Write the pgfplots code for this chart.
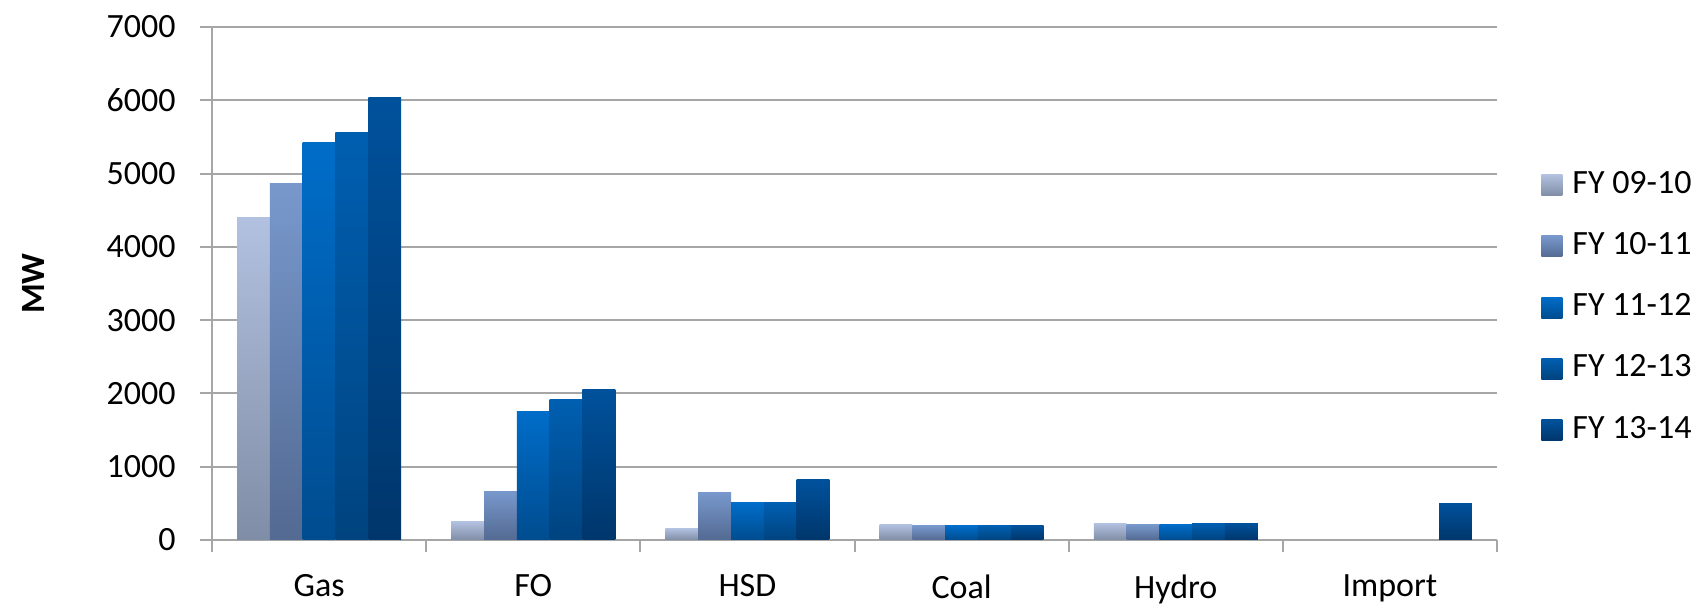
\documentclass[border=0pt]{standalone}
\usepackage{fontspec}
\setmainfont{Carlito}
\usepackage{pgfplots}
\pgfplotsset{compat=1.18}

\definecolor{gridgray}{HTML}{A6A6A6}
\definecolor{aTop}{HTML}{B2C1E0}\definecolor{aBot}{HTML}{808DA6}
\definecolor{bTop}{HTML}{7898CC}\definecolor{bBot}{HTML}{536A92}
\definecolor{cTop}{HTML}{006DC9}\definecolor{cBot}{HTML}{004C8F}
\definecolor{dTop}{HTML}{005FB1}\definecolor{dBot}{HTML}{00437F}
\definecolor{eTop}{HTML}{00519C}\definecolor{eBot}{HTML}{00366B}

% one style per fiscal year; every bar is its own plot so that each
% bar carries its own top-to-bottom gradient
\pgfplotsset{
  fya/.style={draw=none, top color=aTop, bottom color=aBot, bar shift=-32.8pt},
  fyb/.style={draw=none, top color=bTop, bottom color=bBot, bar shift=-16.4pt},
  fyc/.style={draw=none, top color=cTop, bottom color=cBot, bar shift=0pt},
  fyd/.style={draw=none, top color=dTop, bottom color=dBot, bar shift=16.4pt},
  fye/.style={draw=none, top color=eTop, bottom color=eBot, bar shift=32.8pt},
}
\newcommand{\legfont}{\fontsize{17}{20}\selectfont}

\begin{document}
\begin{tikzpicture}
\useasboundingbox (0,0) rectangle (852.5pt,302pt);
\begin{axis}[
  at={(106pt,32pt)}, anchor=south west,
  scale only axis, width=642.5pt, height=256.5pt,
  xmin=-0.5, xmax=5.5, ymin=0, ymax=7000,
  ybar, bar width=16.4pt,
  axis lines=left, axis line style={-, draw=gridgray, line width=1pt},
  ymajorgrids, major grid style={draw=gridgray, line width=1pt},
  ytick={0,1000,...,7000},
  xtick={0,...,5}, xticklabels={Gas,FO,HSD,Coal,Hydro,Import},
  minor xtick={-0.5,0.5,...,5.5},
  major x tick style={draw=none},
  tick align=outside, tick pos=left,
  major tick length=6pt, minor tick length=6pt,
  every tick/.style={draw=gridgray, line width=1pt},
  tick label style={font=\legfont},
  /pgf/number format/assume math mode=true,
  /pgf/number format/1000 sep={},
  yticklabel style={inner sep=0pt, xshift=-12pt},
  xticklabel style={anchor=north, inner sep=0pt, yshift=-11pt},
  ylabel={MW},
  ylabel style={font=\legfont\bfseries,
    at={(axis description cs:-0.1393,0.5)}, anchor=center},
  legend cell align=left,
  legend image code/.code={\path[#1,draw=none] (0pt,-5.25pt) rectangle (10.5pt,5.25pt);},
  legend style={at={(rel axis cs:1,0.453)}, anchor=west, xshift=22pt,
    draw=none, fill=none, font=\legfont,
    row sep=14.6pt, inner sep=0pt,
    nodes={inner sep=0pt, font=\legfont, text height=12pt, text depth=4pt},
    /tikz/every odd column/.append style={column sep=5pt}},
]
% Gas
\addplot[fya, forget plot] coordinates {(0,4400)};
\addplot[fyb, forget plot] coordinates {(0,4870)};
\addplot[fyc, forget plot] coordinates {(0,5418)};
\addplot[fyd, forget plot] coordinates {(0,5555)};
\addplot[fye, forget plot] coordinates {(0,6044)};
% FO
\addplot[fya, forget plot] coordinates {(1,252)};
\addplot[fyb, forget plot] coordinates {(1,668)};
\addplot[fyc, forget plot] coordinates {(1,1757)};
\addplot[fyd, forget plot] coordinates {(1,1915)};
\addplot[fye, forget plot] coordinates {(1,2057)};
% HSD
\addplot[fya, forget plot] coordinates {(2,159)};
\addplot[fyb, forget plot] coordinates {(2,649)};
\addplot[fyc, forget plot] coordinates {(2,508)};
\addplot[fyd, forget plot] coordinates {(2,508)};
\addplot[fye, forget plot] coordinates {(2,825)};
% Coal
\addplot[fya, forget plot] coordinates {(3,213)};
\addplot[fyb, forget plot] coordinates {(3,195)};
\addplot[fyc, forget plot] coordinates {(3,195)};
\addplot[fyd, forget plot] coordinates {(3,195)};
\addplot[fye, forget plot] coordinates {(3,195)};
% Hydro
\addplot[fya, forget plot] coordinates {(4,229)};
\addplot[fyb, forget plot] coordinates {(4,211)};
\addplot[fyc, forget plot] coordinates {(4,211)};
\addplot[fyd, forget plot] coordinates {(4,229)};
\addplot[fye, forget plot] coordinates {(4,229)};
% Import
\addplot[fye, forget plot] coordinates {(5,495)};

\addlegendimage{fya}\addlegendentry{FY 09-10}
\addlegendimage{fyb}\addlegendentry{FY 10-11}
\addlegendimage{fyc}\addlegendentry{FY 11-12}
\addlegendimage{fyd}\addlegendentry{FY 12-13}
\addlegendimage{fye}\addlegendentry{FY 13-14}
\end{axis}
\end{tikzpicture}
\end{document}
